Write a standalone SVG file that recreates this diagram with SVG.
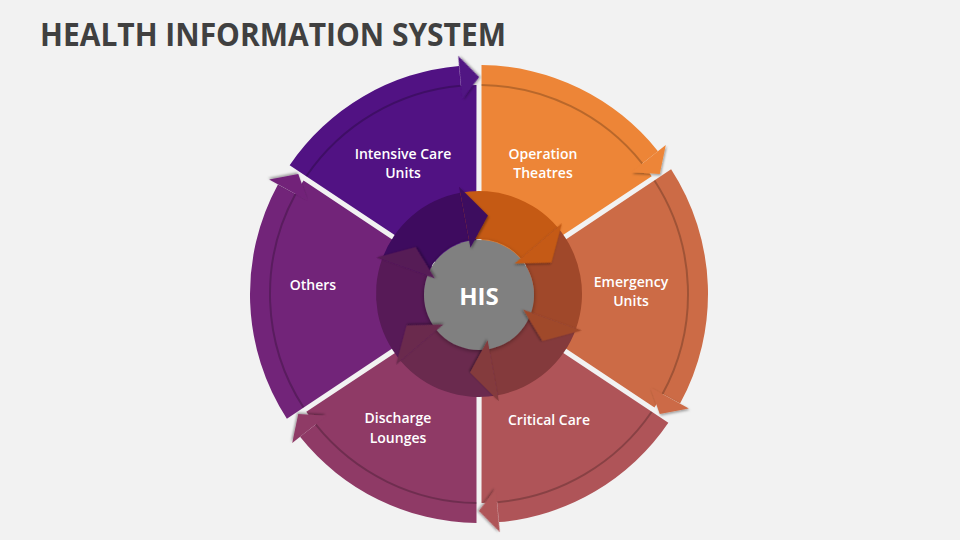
<svg xmlns="http://www.w3.org/2000/svg" width="960" height="540" viewBox="0 0 960 540">
<defs>
<style>
.title{font-family:"Open Sans","Liberation Sans",sans-serif;font-weight:700;font-size:32px;fill:#404040}
.lbl{font-family:"Open Sans","Liberation Sans",sans-serif;font-weight:600;font-size:14px;fill:#ffffff;text-anchor:middle}
.hub{font-family:"Open Sans","Liberation Sans",sans-serif;font-weight:700;font-size:24px;fill:#ffffff;text-anchor:middle}
.groove{fill:none;stroke:#000;stroke-opacity:0.22;stroke-width:2}
.head{filter:url(#sh)}
</style>
<filter id="sh" x="-50%" y="-50%" width="200%" height="200%">
<feDropShadow dx="1" dy="1.5" stdDeviation="1.2" flood-color="#000" flood-opacity="0.35"/>
</filter>
<filter id="csh" x="-30%" y="-30%" width="160%" height="160%">
<feDropShadow dx="0" dy="1" stdDeviation="2" flood-color="#000" flood-opacity="0.4"/>
</filter>
<path id="bodyA" d="M2.5,-5 L2.5,-228.99 A229,229 0 0 1 178.96,-142.87 L163.33,-130.40 A209,209 0 0 1 172.70,-117.74 Z"/>
<path id="grooveA" d="M2.5,-208.98 A209,209 0 0 1 163.33,-130.40"/>
<path id="headA" d="M186.78,-149.11 L180.74,-120.09 L152.39,-121.66 Z"/>
<path id="bodyB" d="M5,0 L192.11,-124.65 A229,229 0 0 1 201.06,109.62 L183.50,100.05 A209,209 0 0 1 175.46,113.58 Z"/>
<path id="grooveB" d="M175.46,-113.58 A209,209 0 0 1 183.50,100.05"/>
<path id="headB" d="M209.84,114.41 L180.74,120.09 L171.21,93.35 Z"/>
<path id="ringBand" d="M-97.09,-34.38 A103,103 0 0 1 -18.77,-101.28 L-10.02,-54.08 A55,55 0 0 0 -51.84,-18.36 Z"/>
<path id="ringHead" d="M-19.86,-107.18 L8.94,-78.49 L-8.56,-46.22 Z"/>
</defs>
<rect width="960" height="540" fill="#F2F2F2"/>
<text class="title" x="40" y="46" textLength="466" lengthAdjust="spacingAndGlyphs">HEALTH INFORMATION SYSTEM</text>

<g id="sector-intensive-care">
<g transform="translate(479,294) rotate(-56.4)" fill="#511283">
<use href="#bodyA"/><use href="#grooveA" class="groove"/><use href="#headA" class="head"/>
</g>
<text class="lbl" x="403" y="159">Intensive Care</text>
<text class="lbl" x="403" y="178">Units</text>
</g>

<g id="sector-operation-theatres">
<g transform="translate(479,294)" fill="#ED8537">
<use href="#bodyA"/><use href="#grooveA" class="groove"/><use href="#headA" class="head"/>
</g>
<text class="lbl" x="543" y="159">Operation</text>
<text class="lbl" x="543" y="178">Theatres</text>
</g>

<g id="sector-emergency-units">
<g transform="translate(479,294)" fill="#CC6B46">
<use href="#bodyB"/><use href="#grooveB" class="groove"/><use href="#headB" class="head"/>
</g>
<text class="lbl" x="631" y="287">Emergency</text>
<text class="lbl" x="631" y="306">Units</text>
</g>

<g id="sector-critical-care">
<g transform="translate(479,294) rotate(123.6)" fill="#AF5458">
<use href="#bodyA"/><use href="#grooveA" class="groove"/><use href="#headA" class="head"/>
</g>
<text class="lbl" x="549" y="425">Critical Care</text>
</g>

<g id="sector-discharge-lounges">
<g transform="translate(479,294) rotate(180)" fill="#8F3A66">
<use href="#bodyA"/><use href="#grooveA" class="groove"/><use href="#headA" class="head"/>
</g>
<text class="lbl" x="398" y="423">Discharge</text>
<text class="lbl" x="398" y="443">Lounges</text>
</g>

<g id="sector-others">
<g transform="translate(479,294) rotate(180)" fill="#722479">
<use href="#bodyB"/><use href="#grooveB" class="groove"/><use href="#headB" class="head"/>
</g>
<text class="lbl" x="313" y="290">Others</text>
</g>

<g id="hub-his">
<g transform="translate(479,294)">
<use href="#ringBand" fill="#3E0B5F"/>
<use href="#ringBand" fill="#C55A14" transform="rotate(60)"/>
<use href="#ringBand" fill="#A0482A" transform="rotate(120)"/>
<use href="#ringBand" fill="#843A3C" transform="rotate(180)"/>
<use href="#ringBand" fill="#6A2A4E" transform="rotate(240)"/>
<use href="#ringBand" fill="#571A57" transform="rotate(300)"/>
</g>
<circle cx="479" cy="295" r="55" fill="#808080" filter="url(#csh)"/>
<g transform="translate(479,294)">
<use href="#ringHead" class="head" fill="#3E0B5F"/>
<use href="#ringHead" class="head" fill="#C55A14" transform="rotate(60)"/>
<use href="#ringHead" class="head" fill="#A0482A" transform="rotate(120)"/>
<use href="#ringHead" class="head" fill="#843A3C" transform="rotate(180)"/>
<use href="#ringHead" class="head" fill="#6A2A4E" transform="rotate(240)"/>
<use href="#ringHead" class="head" fill="#571A57" transform="rotate(300)"/>
</g>
<text class="hub" x="479" y="305">HIS</text>
</g>

<g id="connectors"></g>
</svg>
